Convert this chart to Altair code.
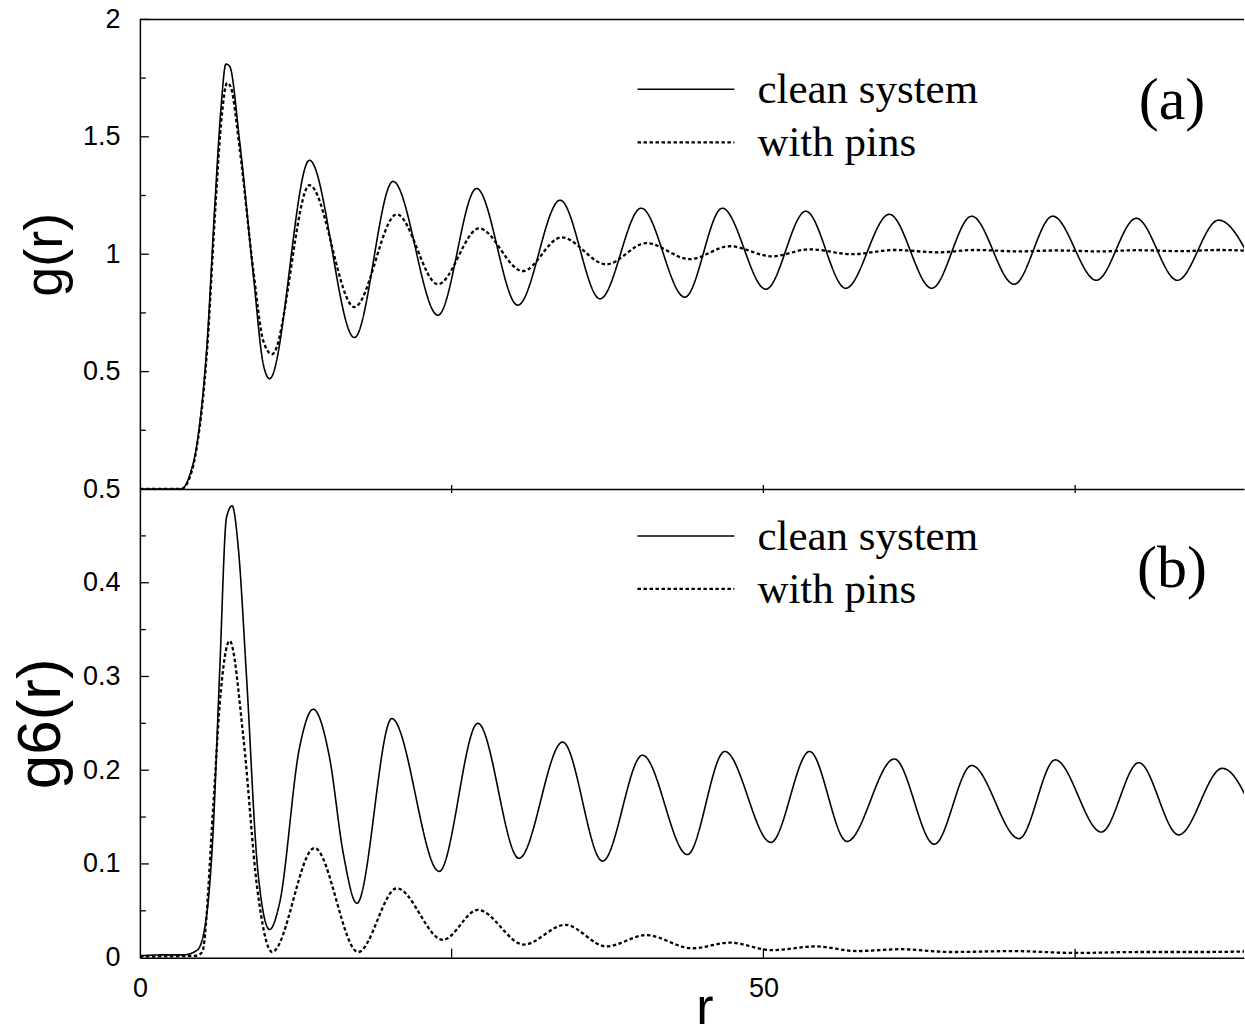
import altair as alt
import pandas as pd

SERIES = ["clean system", "with pins"]

# ---- panel (a): g(r) -------------------------------------------------------
g_clean_r = [0, 3.3, 4.0, 4.6, 5.4, 6.0, 6.5, 6.9, 7.2, 8.0, 9.1, 9.9, 10.4, 13.6, 17.2,
             20.3, 23.9, 27.0, 30.3, 33.7, 36.9, 40.2, 43.7, 46.7, 50.2, 53.4, 56.6, 60.1,
             63.5, 66.7, 70.1, 73.2, 76.7, 79.9, 83.2, 86.5, 89.8]
g_clean_v = [0, 0, 0.06, 0.2, 0.63, 1.2, 1.62, 1.81, 1.80, 1.48, 0.91, 0.53, 0.47, 1.40, 0.645,
             1.31, 0.74, 1.28, 0.783, 1.23, 0.81, 1.196, 0.817, 1.196, 0.851, 1.183, 0.855, 1.17,
             0.855, 1.162, 0.872, 1.162, 0.889, 1.153, 0.889, 1.145, 0.89]

g_pins_r = [0, 3.3, 4.0, 4.6, 5.4, 6.0, 6.5, 7.0, 7.3, 8.0, 9.1, 9.9, 10.6, 13.6, 17.2,
            20.6, 23.9, 27.2, 30.7, 33.8, 37.4, 40.6, 44.1, 47.3, 50.7, 53.7, 57.1, 60.5,
            64.0, 67.0, 70.5, 73.5, 77.0, 80.0, 83.5, 86.5, 89.8]
g_pins_v = [0, 0, 0.05, 0.19, 0.6, 1.15, 1.55, 1.73, 1.71, 1.45, 0.93, 0.63, 0.574, 1.294, 0.775,
            1.17, 0.872, 1.11, 0.928, 1.072, 0.957, 1.047, 0.979, 1.034, 0.991, 1.021, 1.0, 1.018,
            1.008, 1.018, 1.012, 1.016, 1.012, 1.017, 1.013, 1.018, 1.012]

# ---- panel (b): g6(r) ------------------------------------------------------
g6_clean_r = [0, 2.0, 3.5, 4.6, 5.3, 5.85, 6.4, 6.95, 7.4, 7.9, 8.55, 9.45, 10.4, 11.2, 12.8,
              13.9, 15.2, 16.3, 17.4, 20.2, 24.0, 27.1, 30.4, 33.9, 37.1, 40.3,
              43.9, 46.9, 50.6, 53.7, 56.7, 60.5, 63.7, 66.7, 70.5, 73.4, 77.1, 80.1, 83.3,
              86.8, 90.0]
g6_clean_v = [0.002, 0.003, 0.003, 0.008, 0.04, 0.129, 0.306, 0.47, 0.482, 0.436, 0.30, 0.094,
              0.03, 0.058, 0.224, 0.265, 0.214, 0.112, 0.058, 0.255, 0.092, 0.25,
              0.106, 0.23, 0.103, 0.216, 0.11, 0.22, 0.123, 0.22, 0.124, 0.212, 0.121, 0.205,
              0.127, 0.211, 0.134, 0.208, 0.131, 0.202, 0.13]

g6_pins_r = [0, 4.5, 5.0, 5.9, 6.4, 7.2, 8.3, 9.4, 10.6, 14.0, 17.5, 20.6, 24.3, 27.1, 30.8,
             34.1, 37.4, 40.6, 44.3, 47.3, 50.7, 54.2, 57.5, 61.0, 65.0, 70.0, 75.0, 80.0,
             85.0, 90.0]
g6_pins_v = [0.001, 0.002, 0.006, 0.165, 0.27, 0.338, 0.235, 0.075, 0.006, 0.117, 0.006, 0.074,
             0.019, 0.051, 0.014, 0.035, 0.012, 0.024, 0.01, 0.016, 0.008, 0.012, 0.007, 0.009,
             0.006, 0.007, 0.005, 0.006, 0.006, 0.007]

# ---- axes ------------------------------------------------------------------
TOP_LABELS = [0.5, 1, 1.5, 2]
TOP_MAJOR = [0.5, 1.0, 1.5, 2.0]
TOP_MINOR = [0.25, 0.75, 1.25, 1.75]
BOT_LABELS = [0, 0.1, 0.2, 0.3, 0.4, 0.5]
BOT_MAJOR = [0.1, 0.2, 0.3, 0.4]
BOT_MINOR = [0.05, 0.15, 0.25, 0.35, 0.45]
X_LABELS = [0, 50]
X_TICKS = [25, 50, 75]
X_DOMAIN = [0, 88.54]

W, H1, H2 = 1105, 470, 469
DASHES = [[1, 0], [3.5, 2.5]]
WIDTHS = [1.6, 2.3]


def frame(ra, va, rb, vb):
    a = pd.DataFrame({"r": ra, "v": va, "s": SERIES[0]})
    b = pd.DataFrame({"r": rb, "v": vb, "s": SERIES[1]})
    return pd.concat([a, b], ignore_index=True)


xscale = alt.Scale(domain=X_DOMAIN, nice=False, zero=False)
dash = alt.Scale(domain=SERIES, range=DASHES)
swidth = alt.Scale(domain=SERIES, range=WIDTHS)


def legend_layers(row_ys):
    out = []
    for i, name in enumerate(SERIES):
        y = row_ys[i]
        src = pd.DataFrame({"s": [name]})
        out.append(
            alt.Chart(src).mark_rule(color="black", strokeDash=DASHES[i],
                                     strokeWidth=WIDTHS[i] if i else 1.5).encode(
                x=alt.value(498), x2=alt.value(595), y=alt.value(y)))
        out.append(
            alt.Chart(src).mark_text(align="left", baseline="middle", font="Liberation Serif",
                                     fontSize=43, color="black").encode(
                text="s:N", x=alt.value(618), y=alt.value(y + 1)))
    return out


def panel(df, ydomain, ylabels, major, minor, ytitle, ytitle_size, row_ys, tag, tag_y,
          height, bottom):
    ys = alt.Scale(domain=ydomain, nice=False, zero=False)
    if bottom:
        xaxis = alt.Axis(values=X_LABELS, title="r", ticks=False, tickSize=0,
                         labelPadding=18, labelFlush=False, titleX=565, titleY=66,
                         titleBaseline="alphabetic", titleFontSize=52)
    else:
        xaxis = alt.Axis(labels=False, ticks=False, tickSize=0, title=None)
    lines = alt.Chart(df).mark_line(color="black", clip=True, interpolate="monotone").encode(
        x=alt.X("r:Q", scale=xscale, axis=xaxis),
        y=alt.Y("v:Q", scale=ys,
                axis=alt.Axis(values=ylabels, format="~g", ticks=False, tickSize=0,
                              labelPadding=20, labelFlush=False, title=ytitle,
                              titleX=-67, titleFontSize=ytitle_size)),
        strokeDash=alt.StrokeDash("s:N", scale=dash, legend=None),
        strokeWidth=alt.StrokeWidth("s:N", scale=swidth, legend=None),
    )
    maj = alt.Chart(pd.DataFrame({"v": major})).mark_rule(color="black", strokeWidth=1.3).encode(
        y=alt.Y("v:Q", scale=ys), x=alt.value(0), x2=alt.value(9))
    mnr = alt.Chart(pd.DataFrame({"v": minor})).mark_rule(color="black", strokeWidth=1.3).encode(
        y=alt.Y("v:Q", scale=ys), x=alt.value(0), x2=alt.value(6))
    if bottom:
        xt = alt.Chart(pd.DataFrame({"r": X_TICKS})).mark_rule(color="black", strokeWidth=1.3).encode(
            x=alt.X("r:Q", scale=xscale), y=alt.value(height - 9), y2=alt.value(height))
    else:
        xt = alt.Chart(pd.DataFrame({"r": X_TICKS})).mark_rule(color="black", strokeWidth=1.3).encode(
            x=alt.X("r:Q", scale=xscale), y=alt.value(height - 4), y2=alt.value(height + 4))
    txt = alt.Chart(pd.DataFrame({"t": [tag]})).mark_text(
        font="Liberation Serif", fontSize=60, color="black").encode(
        text="t:N", x=alt.value(1033), y=alt.value(tag_y))
    layers = [lines, maj, mnr, xt, txt] + legend_layers(row_ys)
    if not bottom:
        border = alt.Chart(pd.DataFrame({"k": [0]})).mark_rule(color="black", strokeWidth=1.5).encode(
            x=alt.value(0), x2=alt.value(W), y=alt.value(0))
        layers.append(border)
    return alt.layer(*layers).properties(width=W, height=height)


top = panel(frame(g_clean_r, g_clean_v, g_pins_r, g_pins_v), [0, 2], TOP_LABELS,
            TOP_MAJOR, TOP_MINOR, "g(r)", 54, [70, 123], "(a)", 82, H1, False)
bot = panel(frame(g6_clean_r, g6_clean_v, g6_pins_r, g6_pins_v), [0, 0.5], BOT_LABELS,
            BOT_MAJOR, BOT_MINOR, "g6(r)", 62, [47, 100], "(b)", 80, H2, True)

chart = (
    alt.vconcat(top, bot, spacing=0, bounds="flush")
    .configure_view(stroke=None)
    .configure_axis(grid=False, domainColor="black", domainWidth=1.5, labelColor="black",
                    labelFont="Liberation Sans", labelFontSize=27,
                    titleFont="Liberation Sans", titleFontWeight="normal", titleColor="black")
    .properties(padding={"left": 10, "top": 5, "right": 0, "bottom": 0}, background="white")
)

chart.save("out.html", embed_options={"renderer": "svg", "actions": False})
